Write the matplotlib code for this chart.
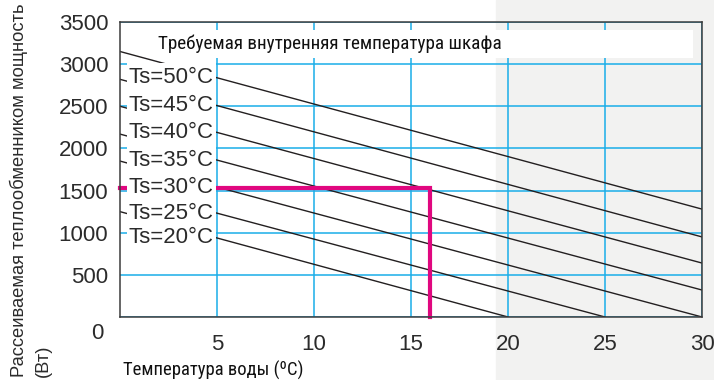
import numpy as np
import matplotlib.pyplot as plt
from matplotlib.patches import Rectangle
from matplotlib.transforms import offset_copy

# данные
ts_labels = ["Ts=50°C", "Ts=45°C", "Ts=40°C", "Ts=35°C", "Ts=30°C", "Ts=25°C", "Ts=20°C"]
q_start = [3150, 2820, 2500, 2170, 1850, 1540, 1250]   # мощность при t воды = 0
x_end = [30, 30, 30, 30, 30, 25, 20]                   # t воды в конце линии
q_end = [1280, 950, 640, 320, 0, 0, 0]                 # мощность в конце линии

# пример: рабочая точка
example_x = [0, 16, 16]
example_q = [1530, 1530, 0]

x_ticks = [5, 10, 15, 20, 25, 30]
y_ticks = [0, 500, 1000, 1500, 2000, 2500, 3000, 3500]

blue = "#1aaee8"
pink = "#e0077f"
dark = "#2b2b2b"
narrow = ["Liberation Sans Narrow", "Roboto Condensed", "Roboto", "DejaVu Sans"]
plt.rcParams["font.family"] = ["Liberation Sans", "DejaVu Sans"]

fig = plt.figure(figsize=(7.14, 3.8), dpi=100)
fig.patch.set_facecolor("white")
fig.add_artist(Rectangle((0.6947, 0), 0.31, 1, transform=fig.transFigure,
                         color="#f2f2f1", zorder=-5))

ax = fig.add_axes([0.1681, 0.1658, 0.8151, 0.7763])
ax.set_facecolor("none")
ax.set_xlim(0, 30)
ax.set_ylim(0, 3500)
ax.set_xticks(x_ticks)
ax.set_yticks(y_ticks)
ax.set_yticklabels([""] + [str(v) for v in y_ticks[1:]])
ax.tick_params(length=0, labelsize=16, labelcolor=dark)
ax.tick_params(axis="y", pad=8.5)
ax.tick_params(axis="x", pad=12)
ax.grid(color=blue, lw=1.1, zorder=1)
ax.set_axisbelow(True)
for s in ax.spines.values():
    s.set_color("#3c3c3c")
    s.set_linewidth(1.1)
    s.set_zorder(6)

# "0" на оси Y сдвинут вниз
ax.text(-0.029, 0, "0", fontsize=16, color=dark, ha="right", va="center",
        transform=offset_copy(ax.get_yaxis_transform(), fig=fig, x=0, y=-17, units="dots"))

labels = []
for lab, q0, xe, qe in zip(ts_labels, q_start, x_end, q_end):
    ax.plot([0, xe], [q0, qe], color="#231f20", lw=1.0, zorder=2)
    q5 = np.interp(5, [0, xe], [q0, qe])
    labels.append(ax.text(4.82, q5, lab, fontsize=16, color=dark,
                          ha="right", va="center", zorder=5))

ax.plot(example_x, example_q, color=pink, lw=3.0, zorder=3, clip_on=False,
        solid_joinstyle="miter")

# заголовок в белой рамке
ax.add_patch(Rectangle((0.0636, 0.878), 0.921, 0.095, transform=ax.transAxes,
                       fc="white", ec="none", zorder=4))
title = ax.text(0.0653, 0.9254, "Требуемая внутренняя температура шкафа", transform=ax.transAxes,
                family=narrow, fontsize=13, color="#111111", ha="left", va="center", zorder=5)

xlab = ax.text(0.005, -0.18, "Температура воды (ºC)", transform=ax.transAxes,
               family=narrow, fontsize=13, color="#111111", ha="left", va="center")

fig.text(0.027, 0.008, "Рассеиваемая теплообменником мощность", rotation=90,
         fontsize=13.2, color=dark, ha="center", va="bottom")
fig.text(0.061, 0.008, "(Вт)", rotation=90,
         fontsize=13.2, color=dark, ha="center", va="bottom")


# подгонка узкого шрифта под ширину в пикселях
def fit_width(t, target_px):
    fig.canvas.draw()
    w = t.get_window_extent().width
    t.set_fontsize(t.get_fontsize() * target_px / w)


fit_width(title, 343)
fit_width(xlab, 180)

# белые подложки под подписями Ts: узкие по горизонтали, высокие по вертикали
fig.canvas.draw()
renderer = fig.canvas.get_renderer()
for t in labels:
    ext = t.get_window_extent(renderer)
    ext = ext.from_extents(ext.x0 - 2, ext.y0 - 4, ext.x1 + 2, ext.y1 + 4)
    box = ext.transformed(ax.transData.inverted())
    ax.add_patch(Rectangle((box.x0, box.y0), box.width, box.height,
                           fc="white", ec="none", zorder=4))

fig.savefig("out.png", dpi=100)
